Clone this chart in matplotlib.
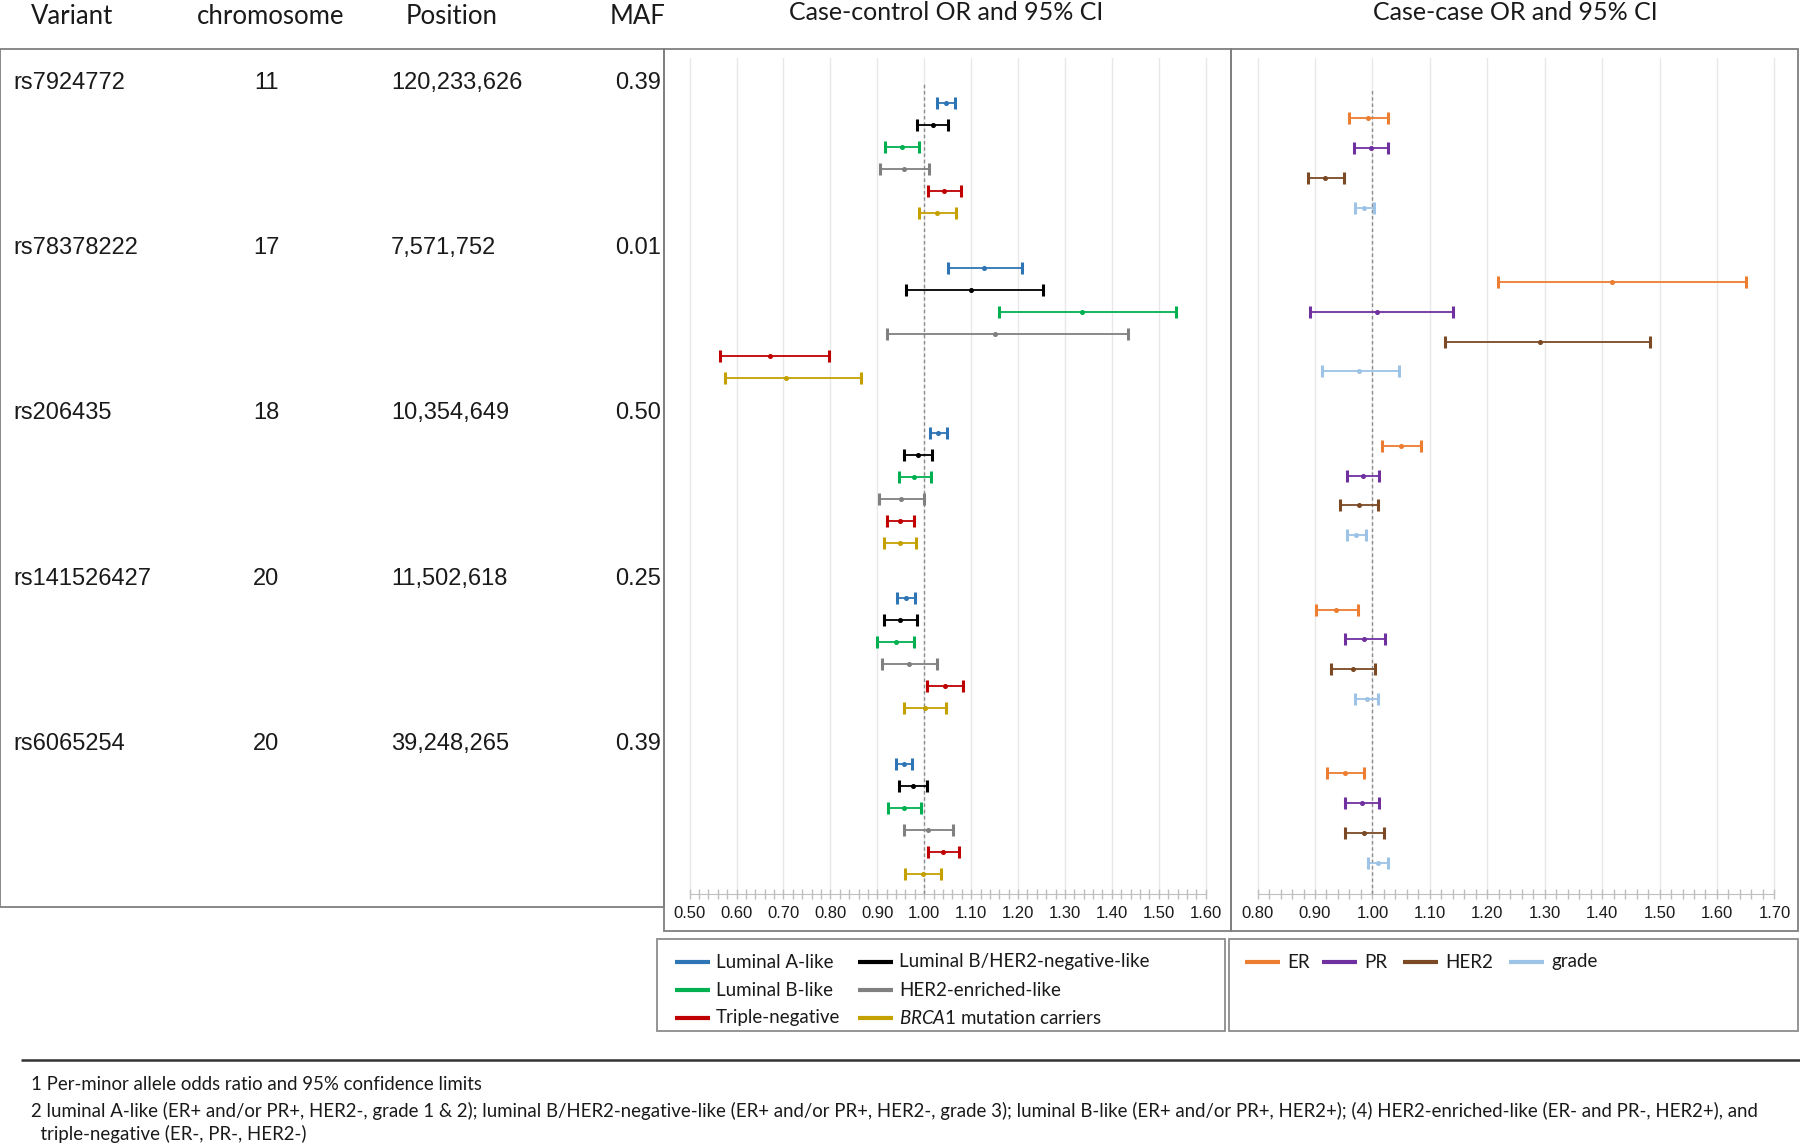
import numpy as np
import matplotlib.pyplot as plt
from matplotlib.patches import Rectangle
from matplotlib.lines import Line2D
from matplotlib.ticker import FixedLocator

plt.rcParams['mathtext.fontset'] = 'custom'
plt.rcParams['mathtext.it'] = 'Lato:italic'
plt.rcParams['mathtext.rm'] = 'Lato'

# ---- data ----
variants = ['rs7924772', 'rs78378222', 'rs206435', 'rs141526427', 'rs6065254']
chromosomes = ['11', '17', '18', '20', '20']
positions = ['120,233,626', '7,571,752', '10,354,649', '11,502,618', '39,248,265']
maf = ['0.39', '0.01', '0.50', '0.25', '0.39']

subtypes = ['Luminal A-like', 'Luminal B/HER2-negative-like', 'Luminal B-like',
            'HER2-enriched-like', 'Triple-negative', r'$\it{BRCA1}$ mutation carriers']
subtype_colors = ['#2E75B6', '#000000', '#00B050', '#808080', '#C00000', '#C5A100']

# case-control OR and 95% CI: rows = variants, cols = subtypes
cc_or = [[1.046, 1.018, 0.953, 0.958, 1.043, 1.027],
         [1.127, 1.099, 1.336, 1.150, 0.672, 0.705],
         [1.030, 0.987, 0.979, 0.951, 0.949, 0.948],
         [0.961, 0.949, 0.939, 0.967, 1.044, 1.002],
         [0.957, 0.976, 0.958, 1.008, 1.041, 0.998]]
cc_lo = [[1.027, 0.985, 0.916, 0.906, 1.009, 0.988],
         [1.051, 0.962, 1.160, 0.921, 0.565, 0.575],
         [1.013, 0.958, 0.946, 0.903, 0.920, 0.915],
         [0.941, 0.915, 0.899, 0.909, 1.006, 0.958],
         [0.939, 0.946, 0.923, 0.957, 1.008, 0.959]]
cc_hi = [[1.066, 1.051, 0.988, 1.011, 1.078, 1.068],
         [1.209, 1.253, 1.537, 1.435, 0.798, 0.865],
         [1.048, 1.017, 1.014, 1.000, 0.978, 0.983],
         [0.980, 0.984, 0.979, 1.027, 1.082, 1.046],
         [0.973, 1.007, 0.994, 1.062, 1.075, 1.035]]

markers = ['ER', 'PR', 'HER2', 'grade']
marker_colors = ['#ED7D31', '#7030A0', '#7B4A24', '#9DC3E6']

# case-case OR and 95% CI: rows = variants, cols = markers
cs_or = [[0.992, 0.997, 0.918, 0.985],
         [1.417, 1.008, 1.292, 0.977],
         [1.049, 0.984, 0.976, 0.971],
         [0.937, 0.986, 0.966, 0.990],
         [0.952, 0.981, 0.985, 1.009]]
cs_lo = [[0.959, 0.968, 0.887, 0.969],
         [1.218, 0.892, 1.126, 0.912],
         [1.017, 0.956, 0.944, 0.955],
         [0.901, 0.953, 0.928, 0.970],
         [0.921, 0.953, 0.953, 0.992]]
cs_hi = [[1.027, 1.027, 0.951, 1.003],
         [1.650, 1.140, 1.483, 1.047],
         [1.085, 1.011, 1.009, 0.988],
         [0.975, 1.022, 1.005, 1.010],
         [0.985, 1.011, 1.020, 1.027]]

cc_ticks = np.round(np.arange(0.5, 1.601, 0.1), 2)
cs_ticks = np.round(np.arange(0.8, 1.701, 0.1), 2)

footnotes = ['1 Per-minor allele odds ratio and 95% confidence limits',
             '2 luminal A-like (ER+ and/or PR+, HER2-, grade 1 & 2); luminal B/HER2-negative-like '
             '(ER+ and/or PR+, HER2-, grade 3); luminal B-like (ER+ and/or PR+, HER2+); (4) '
             'HER2-enriched-like (ER- and PR-, HER2+), and',
             '  triple-negative (ER-, PR-, HER2-)']

# ---- layout (pixels of the 1800x1147 canvas) ----
W, H = 1800, 1147
fig = plt.figure(figsize=(18, 11.47), dpi=100)

def fx(px):
    return px / W

def fy(py):
    return 1 - py / H

def box(x0, y0, x1, y1, color='#7f7f7f', lw=1.3):
    fig.add_artist(Rectangle((fx(x0), fy(y1)), fx(x1) - fx(x0), fy(y0) - fy(y1),
                             transform=fig.transFigure, fill=False,
                             edgecolor=color, lw=lw))

def hline(x0, x1, y, color, lw):
    fig.add_artist(Line2D([fx(x0), fx(x1)], [fy(y), fy(y)], transform=fig.transFigure,
                          color=color, lw=lw, solid_capstyle='butt'))

HEAD = dict(family='Lato', fontsize=18.5, color='#1a1a1a', va='center')
TITLE = dict(family='Lato', fontsize=18, color='#1a1a1a', va='center')
CELL = dict(family='Liberation Sans', fontsize=17, color='#1a1a1a', va='center')


def forest(ax, orv, lo, hi, colors, group, ylim, xlim, ticks, dash_top):
    orv, lo, hi = np.array(orv), np.array(lo), np.array(hi)
    n_var, n_sub = orv.shape
    for k in range(n_sub):
        ys = np.arange(n_var) * group + k
        ax.errorbar(orv[:, k], ys, xerr=[orv[:, k] - lo[:, k], hi[:, k] - orv[:, k]],
                    fmt='o', ms=2.6, color=colors[k], ecolor=colors[k],
                    elinewidth=1.3, capsize=4.5, capthick=2.2, zorder=3)
    ax.set_xlim(*xlim)
    ax.set_ylim(*ylim)
    ax.patch.set_visible(False)
    for s in ['left', 'right', 'top']:
        ax.spines[s].set_visible(False)
    ax.spines['bottom'].set_bounds(ticks[0], ticks[-1])
    ax.spines['bottom'].set_color('#bfbfbf')
    ax.xaxis.set_major_locator(FixedLocator(ticks))
    ax.xaxis.set_minor_locator(FixedLocator(np.arange(ticks[0], ticks[-1] + 0.001, 0.02)))
    ax.set_xticklabels([f'{t:.2f}' for t in ticks], family='Liberation Sans',
                       fontsize=12, color='#1a1a1a')
    ax.tick_params(axis='x', which='both', direction='inout', length=7,
                   color='#bfbfbf', width=1, pad=5)
    ax.set_yticks([])
    ax.grid(axis='x', which='major', color='#e8e8e8', lw=1, zorder=0)
    ax.axvline(1.0, ymin=0, ymax=dash_top, color='#8c8c8c', lw=1,
               ls=(0, (2.5, 2)), zorder=2)


# case-control panel
ax1 = fig.add_axes([fx(664), fy(894), fx(1231) - fx(664), fy(58) - fy(894)])
forest(ax1, cc_or, cc_lo, cc_hi, subtype_colors, group=7.51,
       ylim=(35.97, -2.03), xlim=(0.4454, 1.6539), ticks=cc_ticks,
       dash_top=(894 - 82) / 836)

# case-case panel
ax2 = fig.add_axes([fx(1231), fy(894), fx(1798) - fx(1231), fy(58) - fy(894)])
forest(ax2, cs_or, cs_lo, cs_hi, marker_colors, group=5.504,
       ylim=(26.07, -2.03), xlim=(0.7537, 1.7411), ticks=cs_ticks,
       dash_top=(894 - 90) / 836)

# frames
box(0, 49, 664, 907)
box(664, 49, 1231, 931)
box(1231, 49, 1798, 931)
box(657, 939, 1225, 1031, color='#8c8c8c')
box(1229, 939, 1798, 1031, color='#8c8c8c')

# header
fig.text(fx(31), fy(17), 'Variant', ha='left', **HEAD)
fig.text(fx(271), fy(17), 'chromosome', ha='center', **HEAD)
fig.text(fx(452), fy(17), 'Position', ha='center', **HEAD)
fig.text(fx(638), fy(17), 'MAF', ha='center', **HEAD)
fig.text(fx(946), fy(13), 'Case-control OR and 95% CI', ha='center', **TITLE)
fig.text(fx(1515), fy(13), 'Case-case OR and 95% CI', ha='center', **TITLE)

# table
for i in range(len(variants)):
    y = fy(83 + i * 165.2)
    fig.text(fx(13), y, variants[i], ha='left', **CELL)
    fig.text(fx(266), y, chromosomes[i], ha='center', **CELL)
    fig.text(fx(391), y, positions[i], ha='left', **CELL)
    fig.text(fx(661), y, maf[i], ha='right', **CELL)

# legends
LEG = dict(family='Lato', fontsize=13.5, color='#1a1a1a', va='center', ha='left')
for k, name in enumerate(subtypes):
    row, col = k // 2, k % 2
    y = 962 + row * 28
    x0 = [675, 858][col]
    hline(x0, x0 + 35, y, subtype_colors[k], 3)
    fig.text(fx(x0 + 41), fy(y), name, **LEG)

for k, name in enumerate(markers):
    x0 = [1245, 1322, 1403, 1509][k]
    hline(x0, x0 + 35, 962, marker_colors[k], 3)
    fig.text(fx(x0 + 42), fy(962), name, **LEG)

# footnotes
hline(21, 1800, 1060, '#333333', 1.8)
FOOT = dict(family='Lato', fontsize=13.4, color='#1a1a1a', va='center', ha='left')
fig.text(fx(31), fy(1084), footnotes[0], **FOOT)
fig.text(fx(31), fy(1111), footnotes[1], **FOOT)
fig.text(fx(31), fy(1134), footnotes[2], **FOOT)

fig.savefig('out.png', dpi=100)
